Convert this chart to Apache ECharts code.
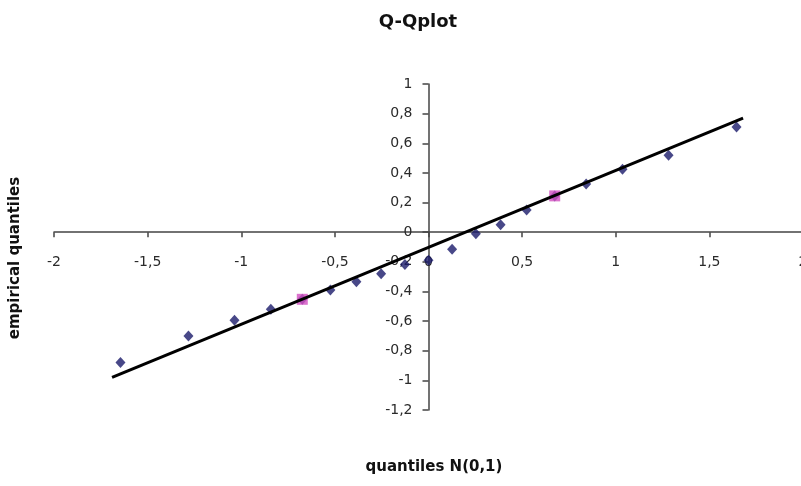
<!DOCTYPE html>
<html>
<head>
<meta charset="utf-8">
<script src="https://cdn.jsdelivr.net/npm/echarts@6/dist/echarts.min.js"></script>
<style>
  html, body { margin: 0; padding: 0; background: #fff; }
  #chart { width: 801px; height: 486px; }
</style>
</head>
<body>
<div id="chart"></div>
<script>
// Theoretical N(0,1) quantiles at p = i/20 and the sorted sample values
const normalQuantiles = [-1.645, -1.282, -1.036, -0.842, -0.674, -0.524, -0.385, -0.253, -0.126, 0,
  0.126, 0.253, 0.385, 0.524, 0.674, 0.842, 1.036, 1.282, 1.645];
const empiricalQuantiles = [-0.88, -0.70, -0.595, -0.52, -0.453, -0.39, -0.335, -0.28, -0.218, -0.19,
  -0.115, -0.01, 0.05, 0.15, 0.245, 0.325, 0.425, 0.52, 0.71];

// First and third quartile points
const quartileX = [-0.674, 0.674];
const quartileY = [-0.453, 0.245];

// Reference line through the quartiles
const refLineX = [-1.69, 1.68];
const refLineY = [-0.98, 0.77];

const xTicks = { min: -2, max: 2, step: 0.5 };
const yTicks = { min: -1.2, max: 1, step: 0.2 };

const zip = (xs, ys) => xs.map((x, i) => [x, ys[i]]);
const comma = v => String(Math.round(v * 10) / 10).replace('.', ',');

const FONT = '"DejaVu Sans", sans-serif';

// Plot area; the two axes cross at the origin, so each one is shifted
// inward from its grid edge to the position of zero on the other scale.
const plot = { left: 54, top: 84, width: 749, height: 326 };
const xAxisShift = -plot.height * (0 - yTicks.min) / (yTicks.max - yTicks.min);
const yAxisShift = -plot.width * (0 - xTicks.min) / (xTicks.max - xTicks.min);

const chart = echarts.init(document.getElementById('chart'), null, { renderer: 'canvas' });

chart.setOption({
  animation: false,
  backgroundColor: '#ffffff',
  title: {
    text: 'Q-Qplot',
    left: 413,
    top: 8,
    textAlign: 'center',
    textStyle: { fontFamily: FONT, fontSize: 18, fontWeight: 'bold', color: '#111' }
  },
  graphic: [
    {
      type: 'text',
      x: 434, y: 467,
      style: {
        text: 'quantiles N(0,1)',
        font: 'bold 15px ' + FONT,
        fill: '#111',
        align: 'center',
        verticalAlign: 'middle'
      }
    },
    {
      type: 'text',
      x: 15, y: 258,
      rotation: Math.PI / 2,
      style: {
        text: 'empirical quantiles',
        font: 'bold 15px ' + FONT,
        fill: '#111',
        align: 'center',
        verticalAlign: 'middle'
      }
    }
  ],
  grid: {
    left: plot.left, top: plot.top, width: plot.width, height: plot.height,
    containLabel: false,
    outerBoundsMode: 'none'
  },
  xAxis: {
    type: 'value',
    position: 'bottom',
    offset: xAxisShift,
    min: xTicks.min, max: xTicks.max, interval: xTicks.step,
    splitLine: { show: false },
    axisLine: { onZero: false, lineStyle: { color: '#444', width: 1.5 } },
    axisTick: { show: true, length: 5, lineStyle: { color: '#444', width: 1.5 } },
    axisLabel: {
      margin: 23, fontFamily: FONT, fontSize: 14, color: '#2a2a2a',
      showMinLabel: true, showMaxLabel: true, hideOverlap: false,
      formatter: comma
    }
  },
  yAxis: {
    type: 'value',
    position: 'left',
    offset: yAxisShift,
    min: yTicks.min, max: yTicks.max, interval: yTicks.step,
    splitLine: { show: false },
    axisLine: { show: true, onZero: false, lineStyle: { color: '#444', width: 1.5 } },
    axisTick: { show: true, length: 6, lineStyle: { color: '#444', width: 1.5 } },
    axisLabel: {
      margin: 16, fontFamily: FONT, fontSize: 14, color: '#2a2a2a',
      showMinLabel: true, showMaxLabel: true, hideOverlap: false,
      formatter: comma
    }
  },
  series: [
    {
      name: 'sample',
      type: 'scatter',
      symbol: 'diamond',
      symbolSize: [10, 11],
      itemStyle: { color: '#1a1a6a' },
      data: zip(normalQuantiles, empiricalQuantiles),
      z: 3
    },
    {
      name: 'quartiles',
      type: 'scatter',
      symbol: 'rect',
      symbolSize: 11,
      itemStyle: { color: '#d24fc0' },
      data: zip(quartileX, quartileY),
      z: 4
    },
    {
      name: 'reference line',
      type: 'line',
      showSymbol: false,
      symbol: 'none',
      lineStyle: { color: '#000', width: 3 },
      data: zip(refLineX, refLineY),
      z: 5
    }
  ]
});
</script>
</body>
</html>
